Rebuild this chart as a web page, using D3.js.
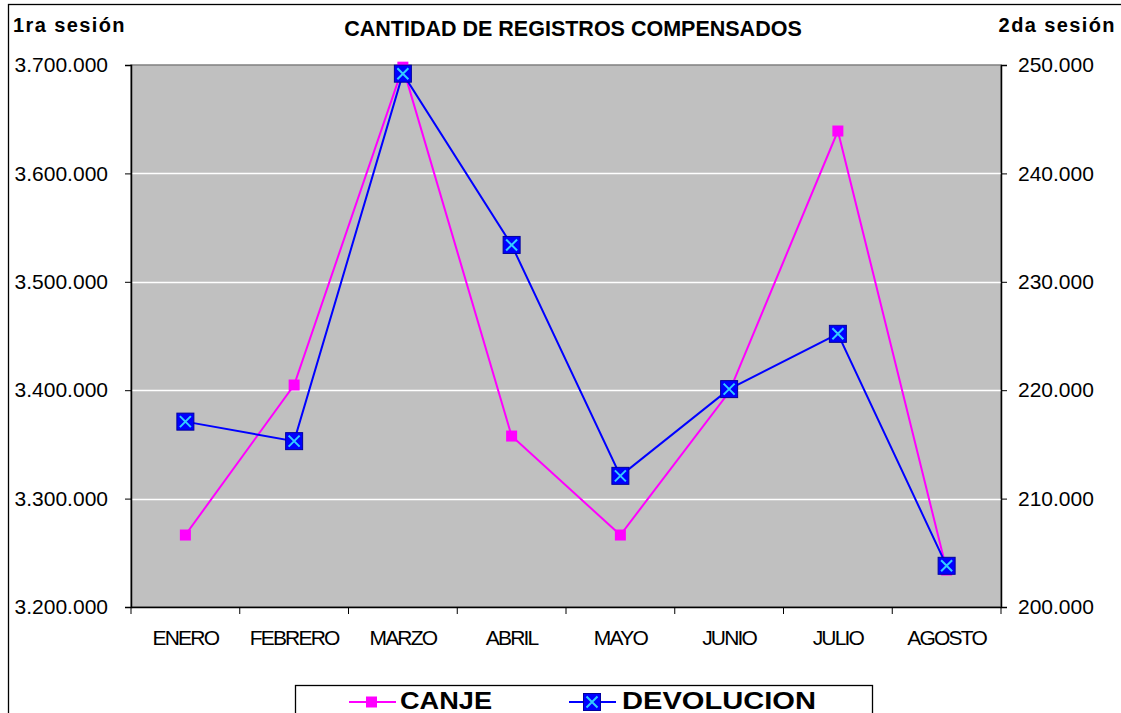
<!DOCTYPE html>
<meta charset="utf-8">
<style>
  body { margin: 0; background: #fff; }
  text { font-family: "Liberation Sans", Arial, sans-serif; }
  .tick line { stroke: #000; }
  .domain { stroke: #000; }
</style>
<svg width="1121" height="713"></svg>
<script src="https://cdn.jsdelivr.net/npm/d3@7"></script>
<script>
var meses = ["ENERO", "FEBRERO", "MARZO", "ABRIL", "MAYO", "JUNIO", "JULIO", "AGOSTO"];
var canje = [3266400, 3404800, 3698000, 3357700, 3266400, 3398300, 3639100, 3234100];
var devolucion = [217100, 215300, 249200, 233400, 212100, 220100, 225200, 203800];
var ticksIzq = [3200000, 3300000, 3400000, 3500000, 3600000, 3700000];
var ticksDer = [200000, 210000, 220000, 230000, 240000, 250000];

var svg = d3.select("svg");
var pLeft = 131, pRight = 1001, pTop = 65, pBottom = 607;

var fmt = function(v) { return d3.format(",")(v).replace(/,/g, "."); };

var x = d3.scaleBand().domain(meses).range([pLeft, pRight]);
var yL = d3.scaleLinear().domain([3200000, 3700000]).range([pBottom, pTop]);
var yR = d3.scaleLinear().domain([200000, 250000]).range([pBottom, pTop]);

// marco del grafico
svg.append("rect").attr("x", 8.5).attr("y", 4.5).attr("width", 1130).attr("height", 730)
  .attr("fill", "#fff").attr("stroke", "#000").attr("stroke-width", 1.3);

// area de trazado
svg.append("rect").attr("x", pLeft).attr("y", pTop).attr("width", pRight - pLeft).attr("height", pBottom - pTop)
  .attr("fill", "#c0c0c0").attr("stroke", "#808080").attr("stroke-width", 1.5);

// lineas de division
svg.append("g").selectAll("line").data(ticksIzq.slice(1, -1)).enter().append("line")
  .attr("x1", pLeft).attr("x2", pRight)
  .attr("y1", function(d) { return Math.round(yL(d)) + 0.5; })
  .attr("y2", function(d) { return Math.round(yL(d)) + 0.5; })
  .attr("stroke", "#fff").attr("stroke-width", 1.5);

// ejes
var ax = svg.append("g").attr("transform", "translate(0," + pBottom + ")")
  .call(d3.axisBottom(x).tickSize(0).tickPadding(23));
ax.select(".domain").attr("stroke-width", 1.5);
ax.selectAll("text").attr("font-size", 21).attr("fill", "#000").attr("letter-spacing", "-1.8px");
svg.append("g").selectAll("line").data(d3.range(meses.length + 1)).enter().append("line")
  .attr("x1", function(i) { return pLeft + i * x.step(); })
  .attr("x2", function(i) { return pLeft + i * x.step(); })
  .attr("y1", pBottom).attr("y2", pBottom + 7).attr("stroke", "#000");

var al = svg.append("g").attr("transform", "translate(" + pLeft + ",0)")
  .call(d3.axisLeft(yL).tickValues(ticksIzq).tickSize(6).tickPadding(17).tickFormat(fmt));
al.select(".domain").attr("stroke-width", 1.5);
al.selectAll("text").attr("font-size", 21).attr("fill", "#000");

var ar = svg.append("g").attr("transform", "translate(" + pRight + ",0)")
  .call(d3.axisRight(yR).tickValues(ticksDer).tickSize(6).tickPadding(11).tickFormat(fmt));
ar.select(".domain").attr("stroke-width", 1.5);
ar.selectAll("text").attr("font-size", 21).attr("fill", "#000");

// titulos
svg.append("text").attr("x", 573).attr("y", 36).attr("text-anchor", "middle")
  .attr("font-size", 21.5).attr("font-weight", "bold").text("CANTIDAD DE REGISTROS COMPENSADOS");
svg.append("text").attr("x", 13).attr("y", 32).attr("font-size", 20).attr("font-weight", "bold")
  .attr("letter-spacing", "1.4px").text("1ra sesión");
svg.append("text").attr("x", 1116).attr("y", 32).attr("text-anchor", "end").attr("font-size", 20)
  .attr("font-weight", "bold").attr("letter-spacing", "1.4px").text("2da sesión");

// series
var cx = function(d, i) { return x(meses[i]) + x.bandwidth() / 2; };
var lineL = d3.line().x(cx).y(function(d) { return yL(d); });
var lineR = d3.line().x(cx).y(function(d) { return yR(d); });

svg.append("path").datum(canje).attr("d", lineL).attr("fill", "none")
  .attr("stroke", "#ff00ff").attr("stroke-width", 2);
svg.append("g").selectAll("rect").data(canje).enter().append("rect")
  .attr("x", function(d, i) { return cx(d, i) - 5.5; })
  .attr("y", function(d) { return yL(d) - 5.5; })
  .attr("width", 11).attr("height", 11).attr("fill", "#ff00ff");

svg.append("path").datum(devolucion).attr("d", lineR).attr("fill", "none")
  .attr("stroke", "#0000ff").attr("stroke-width", 2);

function marcaDev(g, px, py) {
  g.append("rect").attr("x", px - 8.5).attr("y", py - 8.5).attr("width", 17).attr("height", 17)
    .attr("fill", "#0000ff").attr("stroke", "#0000a0").attr("stroke-width", 1);
  g.append("path").attr("d", "M" + (px - 5.5) + "," + (py - 5.5) + "L" + (px + 5.5) + "," + (py + 5.5) +
      "M" + (px + 5.5) + "," + (py - 5.5) + "L" + (px - 5.5) + "," + (py + 5.5))
    .attr("stroke", "#33ccff").attr("stroke-width", 2);
}
var gd = svg.append("g");
devolucion.forEach(function(d, i) { marcaDev(gd, cx(d, i), yR(d)); });

// leyenda
var leg = svg.append("g");
leg.append("rect").attr("x", 295.5).attr("y", 685.5).attr("width", 577).attr("height", 60)
  .attr("fill", "#fff").attr("stroke", "#000").attr("stroke-width", 1.3);
leg.append("line").attr("x1", 349).attr("x2", 396).attr("y1", 702).attr("y2", 702)
  .attr("stroke", "#ff00ff").attr("stroke-width", 2);
leg.append("rect").attr("x", 366).attr("y", 696.5).attr("width", 11).attr("height", 11).attr("fill", "#ff00ff");
leg.append("text").attr("x", 400).attr("y", 709).attr("font-size", 24).attr("font-weight", "bold")
  .attr("textLength", 92).attr("lengthAdjust", "spacingAndGlyphs").text("CANJE");
leg.append("line").attr("x1", 569).attr("x2", 616).attr("y1", 702).attr("y2", 702)
  .attr("stroke", "#0000ff").attr("stroke-width", 2);
marcaDev(leg, 592, 702);
leg.append("text").attr("x", 622).attr("y", 709).attr("font-size", 24).attr("font-weight", "bold")
  .attr("textLength", 194).attr("lengthAdjust", "spacingAndGlyphs").text("DEVOLUCION");
</script>
